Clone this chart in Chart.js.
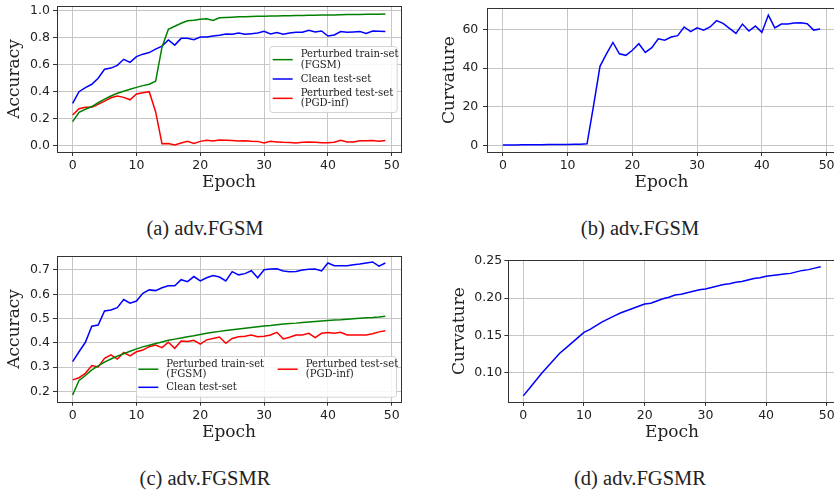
<!DOCTYPE html>
<html>
<head>
<meta charset="utf-8">
<script src="https://cdn.jsdelivr.net/npm/chart.js@4.4.1/dist/chart.umd.min.js"></script>
<style>
body { margin: 0; width: 834px; height: 491px; overflow: hidden; background: #fff; position: relative; }
canvas { position: absolute; }
.cap { position: absolute; font-family: "Liberation Serif", serif; font-size: 20.5px; line-height: 20px; color: #222; transform: translateX(-50%); white-space: nowrap; }
</style>
</head>
<body>
<canvas id="chartA" width="410" height="196" style="left:0;top:0"></canvas>
<canvas id="chartB" width="430" height="196" style="left:420px;top:0"></canvas>
<canvas id="chartC" width="410" height="196" style="left:0;top:250px"></canvas>
<canvas id="chartD" width="430" height="196" style="left:420px;top:250px"></canvas>
<div class="cap" style="left:205px;top:218px">(a) adv.FGSM</div>
<div class="cap" style="left:640px;top:218px">(b) adv.FGSM</div>
<div class="cap" style="left:205px;top:468px">(c) adv.FGSMR</div>
<div class="cap" style="left:640px;top:468px">(d) adv.FGSMR</div>
<script>
const epochs = [0, 1, 2, 3, 4, 5, 6, 7, 8, 9, 10, 11, 12, 13, 14, 15, 16, 17, 18, 19,
    20, 21, 22, 23, 24, 25, 26, 27, 28, 29, 30, 31, 32, 33, 34, 35, 36, 37, 38, 39,
    40, 41, 42, 43, 44, 45, 46, 47, 48, 49];
const xTicks = [0, 10, 20, 30, 40, 50];

// (a) adv.FGSM
const trainFGSM = [0.178, 0.247, 0.270, 0.290, 0.318, 0.345, 0.368, 0.388, 0.403, 0.418,
    0.432, 0.445, 0.455, 0.477, 0.730, 0.862, 0.885, 0.907, 0.925, 0.930,
    0.937, 0.940, 0.928, 0.947, 0.950, 0.952, 0.955, 0.956, 0.957, 0.958,
    0.959, 0.960, 0.961, 0.962, 0.963, 0.964, 0.965, 0.966, 0.967, 0.968,
    0.969, 0.969, 0.970, 0.971, 0.971, 0.972, 0.973, 0.973, 0.974, 0.975];
const cleanFGSM = [0.313, 0.400, 0.430, 0.455, 0.500, 0.566, 0.575, 0.595, 0.640, 0.617,
    0.660, 0.678, 0.690, 0.715, 0.738, 0.783, 0.745, 0.795, 0.795, 0.785,
    0.805, 0.805, 0.812, 0.818, 0.828, 0.825, 0.835, 0.825, 0.830, 0.835,
    0.848, 0.828, 0.838, 0.825, 0.835, 0.840, 0.840, 0.855, 0.843, 0.850,
    0.812, 0.820, 0.845, 0.840, 0.843, 0.845, 0.832, 0.850, 0.847, 0.845];
const pgdFGSM = [0.227, 0.274, 0.284, 0.284, 0.306, 0.330, 0.355, 0.368, 0.358, 0.340,
    0.383, 0.393, 0.400, 0.252, 0.015, 0.017, 0.005, 0.020, 0.033, 0.017,
    0.032, 0.040, 0.035, 0.042, 0.040, 0.038, 0.035, 0.036, 0.033, 0.032,
    0.020, 0.032, 0.028, 0.025, 0.024, 0.020, 0.025, 0.028, 0.026, 0.022,
    0.022, 0.025, 0.040, 0.027, 0.028, 0.036, 0.037, 0.038, 0.033, 0.038];

// (b) adv.FGSM curvature
const curvFGSM = [0.2, 0.2, 0.2, 0.3, 0.3, 0.3, 0.3, 0.4, 0.4, 0.4,
    0.4, 0.5, 0.5, 0.8, 20.5, 41.0, 47.4, 53.4, 47.5, 46.7,
    49.3, 52.7, 48.2, 50.7, 55.3, 54.5, 56.2, 56.9, 61.4, 59.0,
    61.0, 59.7, 61.4, 64.7, 63.3, 60.7, 58.1, 62.9, 59.3, 61.9,
    58.6, 67.6, 60.9, 62.9, 62.9, 63.5, 63.6, 63.1, 59.8, 60.3];

// (c) adv.FGSMR
const trainFGSMR = [0.185, 0.245, 0.265, 0.288, 0.305, 0.320, 0.333, 0.345, 0.355, 0.365,
    0.375, 0.383, 0.390, 0.397, 0.403, 0.410, 0.415, 0.420, 0.425, 0.429,
    0.434, 0.439, 0.443, 0.447, 0.451, 0.454, 0.457, 0.460, 0.463, 0.466,
    0.469, 0.471, 0.474, 0.477, 0.479, 0.481, 0.484, 0.486, 0.488, 0.490,
    0.492, 0.494, 0.495, 0.497, 0.499, 0.501, 0.503, 0.504, 0.506, 0.509];
const cleanFGSMR = [0.322, 0.363, 0.402, 0.468, 0.473, 0.531, 0.535, 0.545, 0.578, 0.563,
    0.572, 0.604, 0.618, 0.615, 0.627, 0.635, 0.635, 0.660, 0.652, 0.673,
    0.655, 0.668, 0.677, 0.671, 0.655, 0.693, 0.680, 0.685, 0.697, 0.668,
    0.701, 0.704, 0.705, 0.696, 0.693, 0.694, 0.700, 0.703, 0.704, 0.696,
    0.729, 0.718, 0.718, 0.718, 0.722, 0.725, 0.729, 0.733, 0.716, 0.729];
const pgdFGSMR = [0.247, 0.256, 0.274, 0.306, 0.300, 0.336, 0.350, 0.333, 0.360, 0.346,
    0.363, 0.370, 0.384, 0.391, 0.380, 0.402, 0.377, 0.407, 0.405, 0.410,
    0.394, 0.412, 0.418, 0.424, 0.398, 0.418, 0.425, 0.427, 0.432, 0.425,
    0.427, 0.432, 0.443, 0.416, 0.423, 0.432, 0.432, 0.439, 0.421, 0.439,
    0.442, 0.439, 0.443, 0.432, 0.432, 0.432, 0.432, 0.437, 0.445, 0.450];

// (d) adv.FGSMR curvature
const curvFGSMR = [0.069, 0.079, 0.089, 0.099, 0.108, 0.117, 0.126, 0.133, 0.140, 0.147,
    0.154, 0.158, 0.163, 0.168, 0.172, 0.176, 0.180, 0.183, 0.186, 0.189,
    0.192, 0.193, 0.196, 0.199, 0.201, 0.204, 0.205, 0.207, 0.209, 0.211,
    0.212, 0.214, 0.216, 0.218, 0.219, 0.221, 0.222, 0.224, 0.226, 0.227,
    0.229, 0.230, 0.231, 0.232, 0.233, 0.235, 0.237, 0.238, 0.240, 0.242];

const accTicksA = [0, 0.2, 0.4, 0.6, 0.8, 1.0];
const curvTicksB = [0, 20, 40, 60];
const accTicksC = [0.2, 0.3, 0.4, 0.5, 0.6, 0.7];
const curvTicksD = [0.10, 0.15, 0.20, 0.25];

const labelTrain = "Perturbed train-set\n(FGSM)";
const labelClean = "Clean test-set";
const labelPgd = "Perturbed test-set\n(PGD-inf)";

function pts(vals) {
    return epochs.map((e, i) => ({ x: e, y: vals[i] }));
}

function line(label, vals, color) {
    return {
        label: label,
        data: pts(vals),
        borderColor: color,
        borderWidth: 1.5,
        pointRadius: 0,
        fill: false
    };
}

// draws the four spines like matplotlib
const framePlugin = {
    id: 'frame',
    afterDatasetsDraw(chart) {
        const a = chart.chartArea;
        const ctx = chart.ctx;
        ctx.save();
        ctx.strokeStyle = '#333';
        ctx.lineWidth = 1;
        ctx.strokeRect(Math.round(a.left) + 0.5, Math.round(a.top) + 0.5,
            Math.round(a.right - a.left), Math.round(a.bottom - a.top));
        ctx.restore();
    }
};

// legend box inside the plot, multi-line labels
const boxLegend = {
    id: 'boxLegend',
    afterDraw(chart, args, o) {
        if (!o.rect) return;
        const ctx = chart.ctx;
        const [x, y, w, h] = o.rect;
        ctx.save();
        ctx.fillStyle = 'rgba(255,255,255,0.85)';
        ctx.strokeStyle = '#d4d4d4';
        ctx.lineWidth = 1;
        ctx.beginPath();
        ctx.roundRect(x + 0.5, y + 0.5, w, h, 3);
        ctx.fill();
        ctx.stroke();
        ctx.font = '10.1px "DejaVu Serif"';
        ctx.textBaseline = 'middle';
        ctx.textAlign = 'left';
        o.items.forEach(it => {
            const ds = chart.data.datasets[it.ds];
            const lines = ds.label.split('\n');
            const hx = x + it.dx;
            const ty = y + it.dy;
            const hy = ty + (lines.length - 1) * o.lh / 2;
            ctx.strokeStyle = ds.borderColor;
            ctx.lineWidth = 1.5;
            ctx.beginPath();
            ctx.moveTo(hx, hy);
            ctx.lineTo(hx + 20, hy);
            ctx.stroke();
            ctx.fillStyle = '#222';
            lines.forEach((t, k) => ctx.fillText(t, hx + 28, ty + k * o.lh));
        });
        ctx.restore();
    }
};

function makeChart(id, datasets, c) {
    const tickFont = { family: 'DejaVu Sans', size: 12.5 };
    const titleFont = { family: 'DejaVu Serif', size: 17, lineHeight: 1.2 };
    return new Chart(document.getElementById(id), {
        type: 'line',
        data: { datasets: datasets },
        plugins: [framePlugin, boxLegend],
        options: {
            responsive: false,
            animation: false,
            layout: { padding: { top: c.padTop, right: c.padRight, left: 0, bottom: 0 } },
            plugins: {
                legend: { display: false },
                tooltip: { enabled: false },
                boxLegend: c.legend || {}
            },
            scales: {
                x: {
                    type: 'linear',
                    min: -2.45,
                    max: 51.45,
                    afterBuildTicks: s => { s.ticks = xTicks.map(v => ({ value: v })); },
                    afterFit: s => { s.height = c.xH; s.paddingLeft = 0; s.paddingRight = 0; },
                    ticks: { font: tickFont, color: '#222', padding: 2.2, maxRotation: 0, autoSkip: false,
                        callback: v => String(v) },
                    grid: { color: '#c6c6c6', lineWidth: 1, tickLength: 4, tickColor: '#333' },
                    border: { display: false },
                    title: { display: true, text: 'Epoch', font: titleFont, color: '#222', padding: { top: 0, bottom: 2.8 } }
                },
                y: {
                    type: 'linear',
                    min: c.yMin,
                    max: c.yMax,
                    afterBuildTicks: s => { s.ticks = c.yTicks.map(v => ({ value: v })); },
                    afterFit: s => { s.width = c.yW; s.paddingTop = 0; s.paddingBottom = 0; },
                    ticks: { font: tickFont, color: '#222', padding: c.tickPad, autoSkip: false,
                        callback: v => v.toFixed(c.digits) },
                    grid: { color: '#c6c6c6', lineWidth: 1, tickLength: 4, tickColor: '#333' },
                    border: { display: false },
                    title: { display: true, text: c.yTitle, font: titleFont, color: '#222', padding: { top: c.titlePad, bottom: 0 } }
                }
            }
        }
    });
}

makeChart('chartA', [
    line(labelTrain, trainFGSM, '#008000'),
    line(labelClean, cleanFGSM, '#0000ff'),
    line(labelPgd, pgdFGSM, '#ff0000')
], {
    padTop: 6, padRight: 9, xH: 44, yW: 57, yMin: -0.0467, yMax: 1.0348,
    yTicks: accTicksA, digits: 1, yTitle: 'Accuracy', titlePad: 4.8, tickPad: 3,
    legend: {
        rect: [269.3, 46, 127.4, 66], lh: 10.7,
        items: [{ ds: 0, dx: 3.4, dy: 8.3 }, { ds: 1, dx: 3.4, dy: 33 }, { ds: 2, dx: 3.4, dy: 47 }]
    }
});

makeChart('chartB', [
    line('Curvature', curvFGSM, '#0000ff')
], {
    padTop: 8, padRight: 14, xH: 44, yW: 67, yMin: -3.48, yMax: 71.26,
    yTicks: curvTicksB, digits: 0, yTitle: 'Curvature', titlePad: 19.8, tickPad: 4.7
});

makeChart('chartC', [
    line(labelTrain, trainFGSMR, '#008000'),
    line(labelClean, cleanFGSMR, '#0000ff'),
    line(labelPgd, pgdFGSMR, '#ff0000')
], {
    padTop: 6, padRight: 9, xH: 44.3, yW: 57, yMin: 0.1571, yMax: 0.7577,
    yTicks: accTicksC, digits: 1, yTitle: 'Accuracy', titlePad: 4.8, tickPad: 3,
    legend: {
        rect: [136, 106, 260, 40.7], lh: 10.4,
        items: [{ ds: 0, dx: 2.3, dy: 8 }, { ds: 1, dx: 2.3, dy: 31.3 }, { ds: 2, dx: 141.7, dy: 8 }]
    }
});

makeChart('chartD', [
    line('Curvature', curvFGSMR, '#0000ff')
], {
    padTop: 10, padRight: 14.4, xH: 44, yW: 88.4, yMin: 0.0608, yMax: 0.2509,
    yTicks: curvTicksD, digits: 2, yTitle: 'Curvature', titlePad: 29.1, tickPad: 2.3
});
</script>
</body>
</html>
